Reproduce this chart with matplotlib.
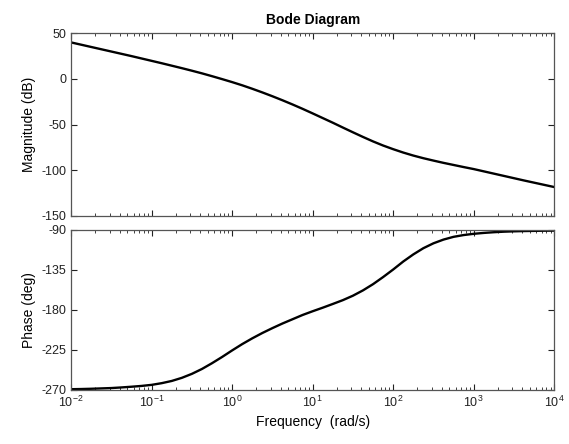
import matplotlib.pyplot as plt

# frequency points as log10(rad/s)
freq_exp = [-2.0, -1.875, -1.75, -1.625, -1.5, -1.375, -1.25, -1.125,
            -1.0, -0.875, -0.75, -0.625, -0.5, -0.375, -0.25, -0.125,
            0.0, 0.125, 0.25, 0.375, 0.5, 0.625, 0.75, 0.875,
            1.0, 1.125, 1.25, 1.375, 1.5, 1.625, 1.75, 1.875,
            2.0, 2.125, 2.25, 2.375, 2.5, 2.625, 2.75, 2.875,
            3.0, 3.125, 3.25, 3.375, 3.5, 3.625, 3.75, 3.875, 4.0]
mag_db = [40.0, 37.5, 35.0, 32.5, 30.0, 27.5, 25.0, 22.4,
          19.8, 17.2, 14.5, 11.8, 9.0, 6.1, 3.0, -0.2,
          -3.5, -7.0, -10.8, -14.8, -19.0, -23.4, -28.0, -32.8,
          -37.8, -42.9, -48.0, -53.3, -58.5, -63.6, -68.5, -73.0,
          -77.0, -80.7, -84.0, -86.9, -89.5, -92.0, -94.3, -96.6,
          -98.8, -101.3, -103.8, -106.3, -108.8, -111.3, -113.7, -116.1, -118.5]
phase_deg = [-269.3, -269.1, -268.8, -268.4, -268.0, -267.3, -266.5, -265.6,
             -264.4, -262.5, -260.0, -256.5, -252.0, -246.5, -240.0, -233.0,
             -225.6, -218.5, -212.0, -206.0, -200.5, -195.3, -190.5, -185.7,
             -181.5, -177.5, -173.3, -169.0, -164.0, -158.0, -151.0, -143.0,
             -134.5, -125.5, -117.5, -110.5, -105.0, -100.8, -97.7, -95.7,
             -94.3, -93.3, -92.5, -91.9, -91.5, -91.2, -91.0, -90.8, -90.7]

mag_ticks = [50, 0, -50, -100, -150]
phase_ticks = [-90, -135, -180, -225, -270]
freq_ticks = [1e-2, 1e-1, 1e0, 1e1, 1e2, 1e3, 1e4]

freq = [10 ** e for e in freq_exp]

plt.rcParams['font.family'] = ['Liberation Sans', 'DejaVu Sans']
plt.rcParams['axes.unicode_minus'] = False

fig = plt.figure(figsize=(5.69, 4.44), dpi=100)
ax1 = fig.add_axes([0.125, 0.514, 0.849, 0.411])
ax2 = fig.add_axes([0.125, 0.122, 0.849, 0.360])

ax1.semilogx(freq, mag_db, color='black', lw=1.7)
ax2.semilogx(freq, phase_deg, color='black', lw=1.7)

ax1.set_ylim(-150, 50)
ax1.set_yticks(mag_ticks)
ax2.set_ylim(-270, -90)
ax2.set_yticks(phase_ticks)

for ax in (ax1, ax2):
    ax.set_xlim(1e-2, 1e4)
    ax.set_xticks(freq_ticks)
    ax.tick_params(which='both', direction='in', top=True, right=True,
                   labelsize=9, colors='#222222')
    ax.tick_params(which='major', length=4)
    ax.tick_params(which='minor', length=2)
    for s in ax.spines.values():
        s.set_color('#555555')
        s.set_linewidth(0.9)

ax1.tick_params(labelbottom=False)
ax1.set_ylabel('Magnitude (dB)', fontsize=10)
ax2.set_ylabel('Phase (deg)', fontsize=10)
ax2.set_xlabel('Frequency  (rad/s)', fontsize=10)
ax1.set_title('Bode Diagram', fontsize=10, fontweight='bold', pad=7)

fig.savefig('out.png', dpi=100)
